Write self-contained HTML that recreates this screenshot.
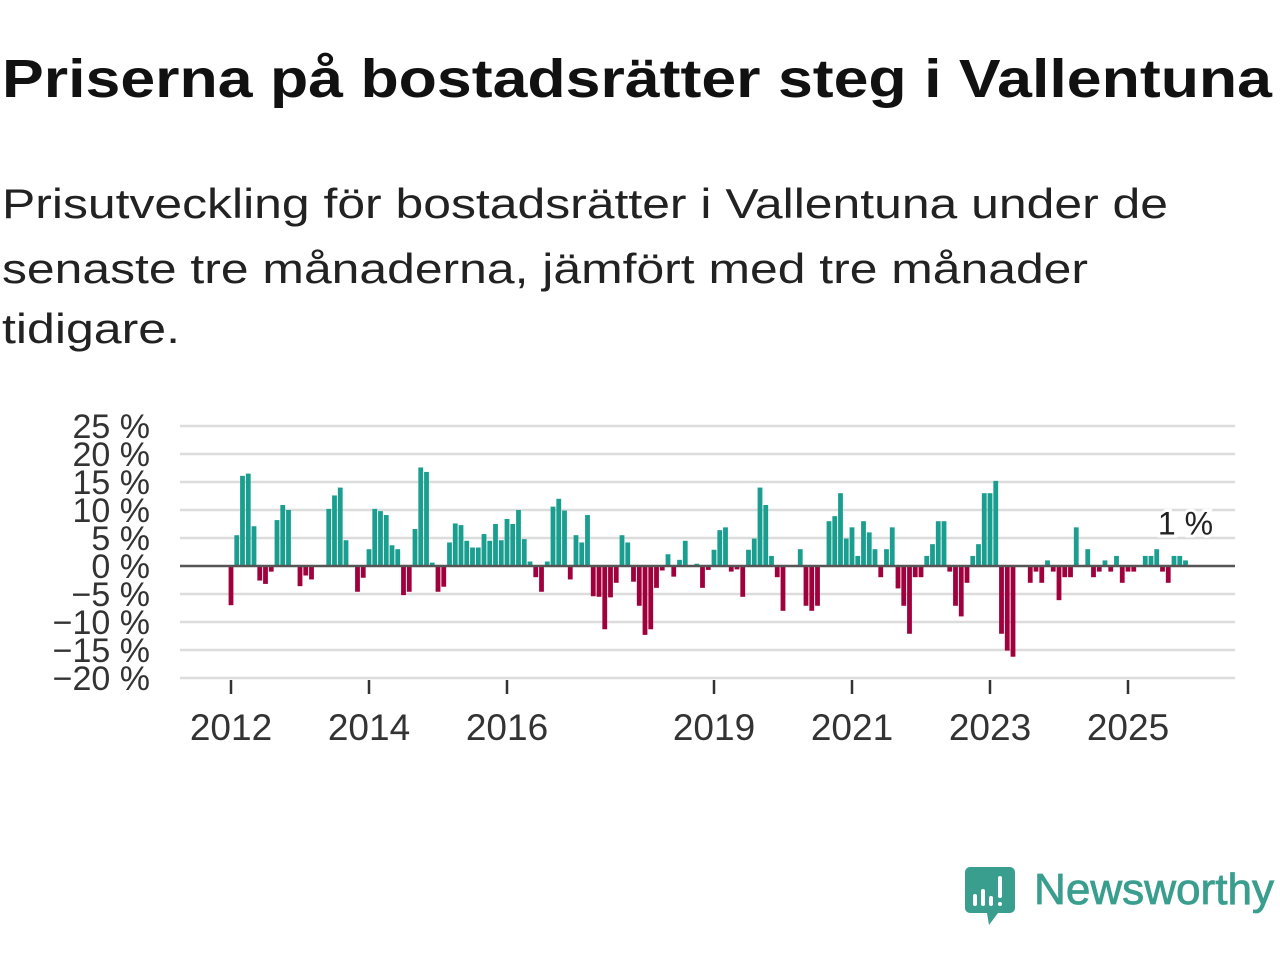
<!DOCTYPE html>
<html><head><meta charset="utf-8"><style>
html,body{margin:0;padding:0;background:#fff;}
svg{display:block;font-family:"Liberation Sans","DejaVu Sans",sans-serif;}
</style></head><body>
<svg id="chart" width="1280" height="960" viewBox="0 0 1280 960">
<text x="2" y="97" font-size="54" font-weight="bold" fill="#111" textLength="1270" lengthAdjust="spacingAndGlyphs">Priserna på bostadsrätter steg i Vallentuna</text>
<g font-size="42" fill="#222">
<text x="2" y="218" textLength="1166" lengthAdjust="spacingAndGlyphs">Prisutveckling för bostadsrätter i Vallentuna under de</text>
<text x="2" y="283" textLength="1086" lengthAdjust="spacingAndGlyphs">senaste tre månaderna, jämfört med tre månader</text>
<text x="2" y="343" textLength="178" lengthAdjust="spacingAndGlyphs">tidigare.</text>
</g>
<g id="grid"></g>
<g id="yticks"></g>
<g id="bars"></g>
<g id="xticks"></g>
<g>
<path d="M970 867 h40 a5 5 0 0 1 5 5 v36 a5 5 0 0 1 -5 5 h-12 l-9 12 l-2 -12 h-17 a5 5 0 0 1 -5 -5 v-36 a5 5 0 0 1 5 -5z" fill="#3a9e8e"/>
<rect x="973" y="894" width="4" height="12" rx="2" fill="#fff"/>
<rect x="981" y="889" width="4" height="17" rx="2" fill="#fff"/>
<rect x="989" y="896" width="4" height="10" rx="2" fill="#fff"/>
<rect x="998" y="876" width="4" height="22" rx="2" fill="#fff"/>
<rect x="998" y="902" width="4" height="4" rx="2" fill="#fff"/>
<text x="1034" y="904" font-size="44" fill="#3a9e8e" stroke="#3a9e8e" stroke-width="0.8" textLength="240" lengthAdjust="spacingAndGlyphs">Newsworthy</text>
</g>
</svg>
<script>
const yTicks = [25, 20, 15, 10, 5, 0, -5, -10, -15, -20];
const yTickLabels = ["25 %","20 %","15 %","10 %","5 %","0 %","\u22125 %","\u221210 %","\u221215 %","\u221220 %"];
const xTickYears = [2012, 2014, 2016, 2019, 2021, 2023, 2025];
const startYear = 2012;
const values = [
-7,5.5,16.1,16.5,7.1,-2.6,-3.2,-1,8.2,10.9,10,0,
-3.6,-1.7,-2.4,0,0,10.2,12.6,14,4.6,0,-4.6,-2.1,
3,10.2,9.8,9.1,3.7,3,-5.2,-4.6,6.6,17.6,16.8,0.6,
-4.6,-3.7,4.2,7.6,7.3,4.5,3.3,3.3,5.7,4.5,7.5,4.6,
8.4,7.5,10,4.8,0.8,-2,-4.6,0.8,10.6,12,9.9,-2.4,
5.5,4.2,9.1,-5.4,-5.5,-11.3,-5.6,-3,5.5,4.2,-2.8,-7.1,
-12.3,-11.3,-3.9,-0.8,2.1,-1.9,1.1,4.5,0,0.4,-3.9,-0.7,
2.9,6.4,6.9,-1,-0.6,-5.5,2.9,4.9,14,10.9,1.8,-2,
-8,0,0,3,-7.1,-8,-7.1,0,8,8.9,13,4.9,
6.9,1.8,8,6,3,-2,3,6.9,-4,-7.1,-12.1,-2,
-2,1.8,3.9,8,8,-1,-7.1,-9,-3,1.8,3.9,13,
13,15.2,-12.1,-15.1,-16.2,0,0,-3,-1,-3,1,-1,
-6.1,-2,-2,6.9,0,3,-2,-1,1,-1,1.8,-3,
-1,-1,0,1.8,1.8,3,-1,-3,1.8,1.8,1
];
const lastLabel = "1 %";

const NS = "http://www.w3.org/2000/svg";
const X0 = 231, PX_PER_MONTH = 5.75;
const Y0 = 566, PX_PER_PCT = 5.6;
const xScale = m => X0 + m * PX_PER_MONTH;
const yScale = v => Y0 - v * PX_PER_PCT;
function mk(tag, attrs, parent){const e=document.createElementNS(NS,tag);for(const k in attrs)e.setAttribute(k,attrs[k]);parent.appendChild(e);return e;}

const grid = document.getElementById('grid');
const yt = document.getElementById('yticks');
yTicks.forEach((t,i)=>{
  if(t!==0){
    const l = mk('line',{x1:180,x2:1235,y1:yScale(t),y2:yScale(t),stroke:'#dcdcdc','stroke-width':2.5},grid);
    
    
  }
  const tx = mk('text',{x:150,y:yScale(t)+12,'text-anchor':'end','font-size':34,fill:'#333'},yt);
  
  
  tx.textContent = yTickLabels[i];
});

const bars = document.getElementById('bars');
values.forEach((v,i)=>{
  if(v===0) return;
  const x = xScale(i);
  const y1 = yScale(Math.max(v,0)), y2 = yScale(Math.min(v,0));
  const r = mk('rect',{x:x-2.4,y:y1,width:4.8,height:Math.max(y2-y1,0.5),fill:v>0?'#1a9e8f':'#a0003c'},bars);
  
  
});
const zl = mk('line',{x1:180,x2:1235,y1:Y0,y2:Y0,stroke:'#555','stroke-width':2.5},bars);


const li = values.length-1;
const lbl = mk('text',{x:xScale(li),y:yScale(values[li])-26,'text-anchor':'middle','font-size':32,fill:'#222',stroke:'#fff','stroke-width':6,'paint-order':'stroke'},bars);


lbl.textContent = lastLabel;

const xt = document.getElementById('xticks');
xTickYears.forEach(yr=>{
  const x = xScale((yr-startYear)*12);
  const t = mk('line',{x1:x,x2:x,y1:680,y2:694,stroke:'#333','stroke-width':2.5},xt);
  
  
  const tx = mk('text',{x:x,y:740,'text-anchor':'middle','font-size':37,fill:'#333'},xt);
  
  
  tx.textContent = yr;
});
</script>
</body></html>
